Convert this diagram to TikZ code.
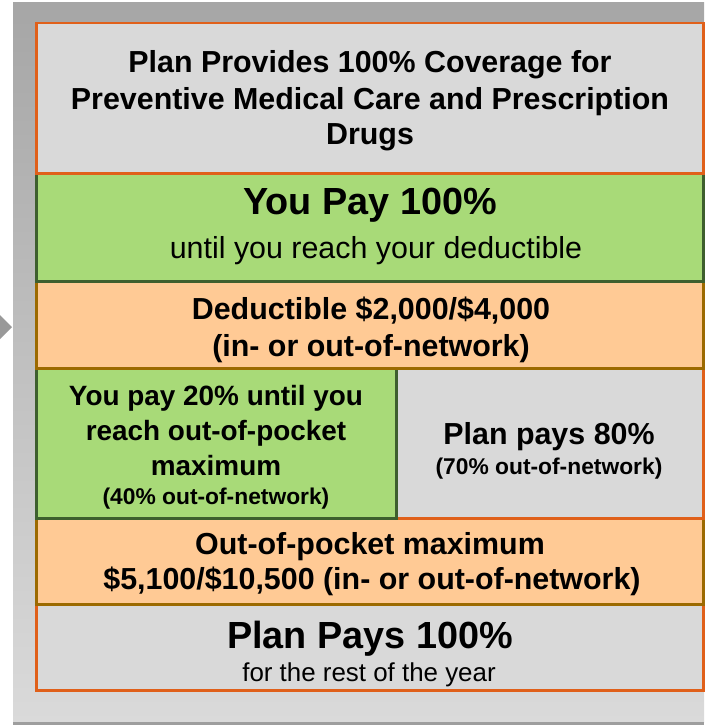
\documentclass[tikz,border=0pt]{standalone}
\usepackage{fontspec}
\setmainfont{Liberation Sans}
\begin{document}
\definecolor{panelTop}{HTML}{A6A6A6}
\definecolor{panelBot}{HTML}{DADADA}
\definecolor{greyFill}{HTML}{D9D9D9}
\definecolor{redLine}{HTML}{E0601A}
\definecolor{greenFill}{HTML}{A8DA78}
\definecolor{greenLine}{HTML}{3E5F2E}
\definecolor{peachFill}{HTML}{FFCA95}
\definecolor{peachLine}{HTML}{9C6A00}
\begin{tikzpicture}[x=1pt,y=-1pt,
  cell/.style={draw,line width=2.5pt,inner sep=0pt,anchor=north west},
  greycell/.style={cell,fill=greyFill,draw=redLine},
  greencell/.style={cell,fill=greenFill,draw=greenLine},
  peachcell/.style={cell,fill=peachFill,draw=peachLine},
  txt/.style={anchor=base,inner sep=0pt,text=black},
  big/.style={txt,font=\fontsize{30.4}{36}\selectfont\bfseries},
  huge/.style={txt,font=\fontsize{37.8}{44}\selectfont\bfseries},
  plain/.style={txt,font=\fontsize{30.4}{36}\selectfont},
  small/.style={txt,font=\fontsize{25.9}{30}\selectfont},
  mid/.style={txt,font=\fontsize{27.9}{33}\selectfont\bfseries},
  note/.style={txt,font=\fontsize{22.8}{27}\selectfont\bfseries}]
\useasboundingbox (0,0) rectangle (704,725);
% shaded backing panel
\shade[top color=panelTop,bottom color=panelBot] (13,3) rectangle (704,722);
\fill[black!38] (13,722) rectangle (704,725);
% pointer on the left edge
\fill[black!40] (0,315) -- (12,327) -- (0,339) -- cycle;

% cells, bottom to top
\node[greycell,minimum width=667pt,minimum height=86pt] (rest) at (35,603) {};
\node[peachcell,minimum width=667pt,minimum height=86pt] (oop) at (35,517) {};
\node[greycell,minimum width=307pt,minimum height=150pt] (planpart) at (395,367) {};
\node[greencell,minimum width=360pt,minimum height=150pt] (youpart) at (35,367) {};
\node[peachcell,minimum width=667pt,minimum height=87pt] (ded) at (35,280) {};
\node[greencell,minimum width=667pt,minimum height=108pt] (youall) at (35,172) {};
\node[greycell,minimum width=667pt,minimum height=150pt] (prev) at (35,22) {};

% texts
\node[big] (t1) at (370,73) {Plan Provides 100\% Coverage for};
\node[big] (t2) at (370,109) {Preventive Medical Care and Prescription};
\node[big] (t3) at (370,144) {Drugs};

\node[huge] (g1) at (370,214) {You Pay 100\%};
\node[plain] (g2) at (376,258) {until you reach your deductible};

\node[big] (d1) at (371,319) {Deductible \$2,000/\$4,000};
\node[big] (d2) at (371,356) {(in- or out-of-network)};

\node[mid] (l1) at (216,405) {You pay 20\% until you};
\node[mid] (l2) at (216,440) {reach out-of-pocket};
\node[mid] (l3) at (216,475) {maximum};
\node[note] (l4) at (216,504) {(40\% out-of-network)};

\node[big] (r1) at (549,444) {Plan pays 80\%};
\node[note] (r2) at (549,474) {(70\% out-of-network)};

\node[big] (o1) at (370,554) {Out-of-pocket maximum};
\node[big] (o2) at (372,589) {\$5,100/\$10,500 (in- or out-of-network)};

\node[huge] (p1) at (370,648) {Plan Pays 100\%};
\node[small] (p2) at (369,681) {for the rest of the year};
\end{tikzpicture}
\end{document}
